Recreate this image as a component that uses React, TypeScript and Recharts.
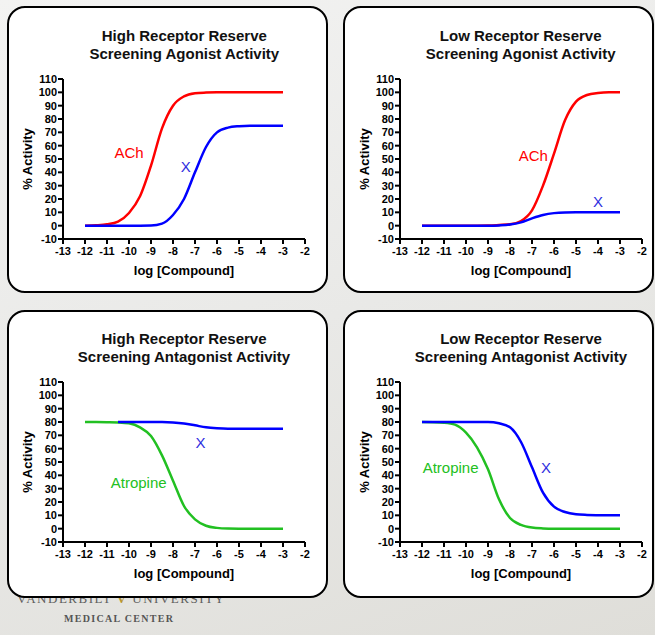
import { LineChart, Line, XAxis, YAxis, ReferenceDot } from "recharts";

// log [Compound] sampling shared by every curve
const logDose = [-12, -11.5, -11, -10.5, -10, -9.5, -9, -8.5, -8, -7.5, -7, -6.5, -6, -5.5, -5, -4.5, -4, -3.5, -3];

// high receptor reserve, agonist mode
const highAgoACh = [0, 0.3, 1, 3, 9.5, 22, 45, 73, 90, 97, 99.3, 99.8, 100, 100, 100, 100, 100, 100, 100];
const highAgoX = [0, 0, 0, 0, 0, 0, 0.1, 1.5, 8, 20, 40, 59, 70, 73.5, 74.6, 75, 75, 75, 75];

// low receptor reserve, agonist mode
const lowAgoACh = [0, 0, 0, 0, 0, 0, 0.1, 0.5, 1, 3.5, 11.5, 30, 54, 79, 93, 98, 99.5, 100, 100];
const lowAgoX = [0, 0, 0, 0, 0, 0, 0, 0.2, 0.8, 2.5, 5.5, 8, 9.4, 9.9, 10, 10, 10, 10, 10];

// high receptor reserve, antagonist mode
const highAntAtropine = [80, 80, 79.9, 79.7, 79, 76, 69.5, 55, 36, 17, 7, 2.2, 0.6, 0.1, 0, 0, 0, 0, 0];
const highAntX = [null, null, null, 80, 80, 80, 80, 80, 79.7, 78.9, 77.5, 76, 75.3, 75, 75, 75, 75, 75, 75];

// low receptor reserve, antagonist mode
const lowAntAtropine = [80, 79.9, 79.5, 78, 72, 61, 44.5, 22, 8, 2.8, 0.8, 0.2, 0, 0, 0, 0, 0, 0, 0];
const lowAntX = [80, 80, 80, 80, 80, 80, 80, 79, 76, 65, 46, 27, 16.5, 12.5, 10.8, 10.3, 10.1, 10, 10];

const xTicks = [-13, -12, -11, -10, -9, -8, -7, -6, -5, -4, -3, -2];
const yTicks = [-10, 0, 10, 20, 30, 40, 50, 60, 70, 80, 90, 100, 110];

const RED = "#ff0000";
const BLUE = "#0000ff";
const GREEN = "#22c022";
const TAG_BLUE = "#2f2fe0";
const FONT = "Arial, 'Liberation Sans', Helvetica, sans-serif";
const SERIF = "'Liberation Serif', 'DejaVu Serif', serif";

const PLOT_W = 242;
const PLOT_H = 160;
const AXIS_W = 63;
const TOP = 79;

interface Tag {
  text: string;
  x: number;
  y: number;
  color: string;
}

interface PanelProps {
  title: [string, string];
  box: { left: number; top: number; width: number; height: number };
  ox: number; // page x of the y axis
  oy: number; // page y of the 110 tick
  a: (number | null)[];
  b: (number | null)[];
  aColor: string;
  tags: Tag[];
}

function YTitle() {
  const cx = 27;
  const cy = TOP + PLOT_H / 2;
  return (
    <text x={cx} y={cy} transform={`rotate(-90, ${cx}, ${cy})`} textAnchor="middle" dominantBaseline="central" fontSize={13} fontWeight="bold" fill="#000">
      % Activity
    </text>
  );
}

function XTitle() {
  return (
    <text x={AXIS_W + PLOT_W / 2} y={270} textAnchor="middle" dominantBaseline="central" fontSize={13} fontWeight="bold" fill="#000">
      log [Compound]
    </text>
  );
}

function Panel({ title, box, ox, oy, a, b, aColor, tags }: PanelProps) {
  const rows = logDose.map((x, i) => ({ x, a: a[i], b: b[i] }));
  const tick = { fill: "#000", fontSize: 11, fontWeight: "bold" as const };
  const stroke = { stroke: "#000", strokeWidth: 2 };

  return (
    <>
      <div
        style={{
          position: "absolute",
          left: box.left,
          top: box.top,
          width: box.width,
          height: box.height,
          boxSizing: "border-box",
          border: "2.5px solid #000",
          borderRadius: 18,
          background: "#fff",
        }}
      />
      <div
        style={{
          position: "absolute",
          left: ox,
          top: oy - 52,
          width: PLOT_W,
          textAlign: "center",
          fontSize: 15,
          fontWeight: "bold",
          lineHeight: "18px",
          color: "#111",
        }}
      >
        {title[0]}
        <br />
        {title[1]}
      </div>
      <div style={{ position: "absolute", left: ox - AXIS_W, top: oy - TOP }}>
        <LineChart width={AXIS_W + PLOT_W + 10} height={TOP + PLOT_H + 45} data={rows} margin={{ top: TOP, right: 10, bottom: 5, left: 0 }}>
          <XAxis
            type="number"
            dataKey="x"
            domain={[-13, -2]}
            ticks={xTicks}
            allowDataOverflow
            height={40}
            tick={tick}
            tickSize={5}
            tickMargin={3}
            axisLine={stroke}
            tickLine={stroke}
            label={<XTitle />}
          />
          <YAxis
            type="number"
            domain={[-10, 110]}
            ticks={yTicks}
            allowDataOverflow
            width={AXIS_W}
            tick={tick}
            tickSize={5}
            tickMargin={1}
            axisLine={stroke}
            tickLine={stroke}
            interval={0}
            label={<YTitle />}
          />
          <Line type="monotone" dataKey="a" stroke={aColor} strokeWidth={2.5} dot={false} isAnimationActive={false} />
          <Line type="monotone" dataKey="b" stroke={BLUE} strokeWidth={2.5} dot={false} isAnimationActive={false} />
          {tags.map((t) => (
            <ReferenceDot
              key={t.text}
              x={t.x}
              y={t.y}
              r={0}
              fill="none"
              stroke="none"
              label={{ value: t.text, position: "center", fill: t.color, fontSize: 15 }}
            />
          ))}
        </LineChart>
      </div>
    </>
  );
}

export default function App() {
  return (
    <div
      style={{
        position: "absolute",
        left: 0,
        top: 0,
        width: 655,
        height: 635,
        overflow: "hidden",
        fontFamily: FONT,
        background: "linear-gradient(160deg, #f3f3f2 0%, #e9e9e7 50%, #dfded9 100%)",
      }}
    >
      <div
        style={{
          position: "absolute",
          left: 17,
          top: 591,
          fontFamily: SERIF,
          fontSize: 13,
          lineHeight: "16px",
          letterSpacing: 1.5,
          color: "#5e5e5e",
          whiteSpace: "nowrap",
        }}
      >
        VANDERBILT <span style={{ color: "#b8962e", fontWeight: "bold" }}>V</span> UNIVERSITY
      </div>
      <div
        style={{
          position: "absolute",
          left: 64,
          top: 613,
          fontFamily: SERIF,
          fontSize: 10,
          lineHeight: "12px",
          fontWeight: "bold",
          letterSpacing: 1.3,
          color: "#555",
          whiteSpace: "nowrap",
        }}
      >
        MEDICAL CENTER
      </div>

      <Panel
        title={["High Receptor Reserve", "Screening Agonist Activity"]}
        box={{ left: 7, top: 6, width: 321, height: 287 }}
        ox={63.3}
        oy={79}
        a={highAgoACh}
        b={highAgoX}
        aColor={RED}
        tags={[
          { text: "ACh", x: -10, y: 55, color: RED },
          { text: "X", x: -7.42, y: 44.5, color: TAG_BLUE },
        ]}
      />
      <Panel
        title={["Low Receptor Reserve", "Screening Agonist Activity"]}
        box={{ left: 343, top: 6, width: 311, height: 287 }}
        ox={399.7}
        oy={79}
        a={lowAgoACh}
        b={lowAgoX}
        aColor={RED}
        tags={[
          { text: "ACh", x: -6.94, y: 52.7, color: RED },
          { text: "X", x: -4, y: 18, color: TAG_BLUE },
        ]}
      />
      <Panel
        title={["High Receptor Reserve", "Screening Antagonist Activity"]}
        box={{ left: 7, top: 310, width: 321, height: 288 }}
        ox={63}
        oy={382}
        a={highAntAtropine}
        b={highAntX}
        aColor={GREEN}
        tags={[
          { text: "Atropine", x: -9.56, y: 34.5, color: GREEN },
          { text: "X", x: -6.75, y: 64.5, color: TAG_BLUE },
        ]}
      />
      <Panel
        title={["Low Receptor Reserve", "Screening Antagonist Activity"]}
        box={{ left: 343, top: 310, width: 311, height: 288 }}
        ox={400}
        oy={382}
        a={lowAntAtropine}
        b={lowAntX}
        aColor={GREEN}
        tags={[
          { text: "Atropine", x: -10.7, y: 45.7, color: GREEN },
          { text: "X", x: -6.36, y: 45.7, color: TAG_BLUE },
        ]}
      />
    </div>
  );
}
